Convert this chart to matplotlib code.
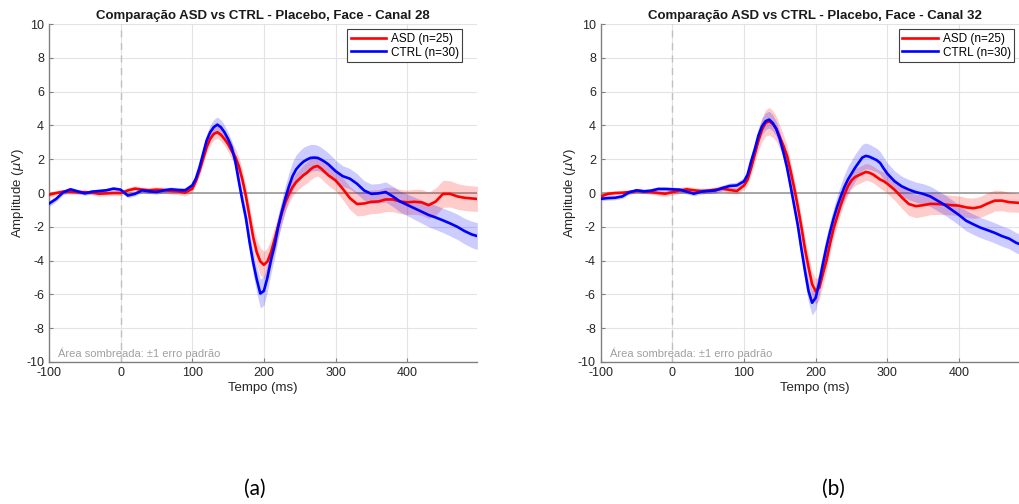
import matplotlib
matplotlib.use('Agg')
import matplotlib.pyplot as plt
import numpy as np

plt.rcParams['font.family'] = ['Liberation Sans', 'DejaVu Sans']
plt.rcParams['axes.unicode_minus'] = False

# sample times (ms): 10 ms in baseline/late window, 5 ms around the components
time = ([-100, -90, -80, -70, -60, -50, -40, -30, -20, -10,
         0, 10, 20, 30, 40, 50, 60, 70, 80, 90]
        + list(range(100, 301, 5))
        + [310, 320, 330, 340, 350, 360, 370, 380, 390, 400,
           410, 420, 430, 440, 450, 460, 470, 480, 490, 498])

# canal 28
asd_28 = [-0.1, 0.0, 0.08, 0.08, 0.05, 0.05, 0.02, -0.04, -0.02, 0.0,
          0.0, 0.15, 0.26, 0.2, 0.16, 0.2, 0.18, 0.12, 0.1, 0.02,
          0.25, 0.7, 1.3, 2.0, 2.7, 3.2, 3.5, 3.6, 3.45, 3.2,
          2.9, 2.5, 2.15, 1.6, 0.8, -0.2, -1.4, -2.6, -3.5, -4.05,
          -4.25, -4.05, -3.5, -2.75, -1.95, -1.2, -0.55, -0.05, 0.35, 0.65,
          0.85, 1.05, 1.2, 1.4, 1.55, 1.6, 1.45, 1.25, 1.05, 0.9, 0.75,
          0.26, -0.3, -0.65, -0.62, -0.52, -0.5, -0.38, -0.38, -0.5, -0.55,
          -0.52, -0.55, -0.72, -0.5, -0.05, -0.05, -0.2, -0.28, -0.32, -0.35]
asd_28_se = [0.15, 0.15, 0.15, 0.14, 0.14, 0.13, 0.13, 0.14, 0.14, 0.15,
             0.16, 0.17, 0.17, 0.16, 0.16, 0.16, 0.17, 0.18, 0.19, 0.2,
             0.22, 0.26, 0.3, 0.32, 0.34, 0.35, 0.36, 0.36, 0.37, 0.4,
             0.45, 0.5, 0.52, 0.52, 0.55, 0.6, 0.65, 0.7, 0.75, 0.8,
             0.8, 0.8, 0.78, 0.72, 0.65, 0.6, 0.55, 0.55, 0.55, 0.55,
             0.58, 0.6, 0.62, 0.62, 0.62, 0.6, 0.6, 0.6, 0.6, 0.62, 0.62,
             0.65, 0.68, 0.7, 0.7, 0.7, 0.7, 0.72, 0.72, 0.72, 0.72,
             0.74, 0.76, 0.78, 0.8, 0.8, 0.78, 0.76, 0.75, 0.75, 0.75]
ctrl_28 = [-0.63, -0.35, 0.05, 0.22, 0.1, -0.02, 0.08, 0.12, 0.16, 0.26,
           0.2, -0.15, -0.05, 0.16, 0.1, 0.06, 0.15, 0.22, 0.18, 0.16,
           0.45, 0.85, 1.5, 2.3, 3.1, 3.6, 3.9, 4.05, 3.9, 3.6,
           3.2, 2.7, 1.9, 0.7, -0.45, -1.5, -2.9, -4.1, -5.1, -5.95,
           -5.8, -5.0, -3.95, -3.1, -2.0, -1.1, -0.3, 0.4, 1.0, 1.4,
           1.65, 1.85, 1.98, 2.08, 2.1, 2.08, 1.98, 1.85, 1.7, 1.5, 1.3,
           1.0, 0.85, 0.55, 0.15, -0.05, -0.02, 0.06, -0.2, -0.5, -0.7,
           -0.9, -1.1, -1.3, -1.45, -1.62, -1.8, -2.0, -2.25, -2.45, -2.55]
ctrl_28_se = [0.18, 0.16, 0.14, 0.12, 0.12, 0.12, 0.12, 0.12, 0.12, 0.12,
              0.12, 0.13, 0.13, 0.13, 0.13, 0.13, 0.14, 0.14, 0.15, 0.15,
              0.18, 0.22, 0.28, 0.32, 0.38, 0.42, 0.45, 0.45, 0.44, 0.42,
              0.4, 0.4, 0.42, 0.45, 0.5, 0.55, 0.62, 0.7, 0.78, 0.85,
              0.85, 0.82, 0.78, 0.72, 0.7, 0.72, 0.75, 0.8, 0.85, 0.85,
              0.85, 0.85, 0.82, 0.8, 0.78, 0.75, 0.72, 0.7, 0.68, 0.66, 0.64,
              0.62, 0.6, 0.6, 0.58, 0.58, 0.58, 0.6, 0.6, 0.62, 0.64,
              0.66, 0.68, 0.7, 0.72, 0.72, 0.74, 0.75, 0.76, 0.78, 0.8]

# canal 32
asd_32 = [-0.2, -0.05, 0.0, 0.02, 0.06, 0.12, 0.1, 0.06, 0.0, -0.04,
          0.05, 0.15, 0.22, 0.16, 0.12, 0.14, 0.2, 0.26, 0.18, 0.12,
          0.45, 0.8, 1.5, 2.3, 3.1, 3.75, 4.15, 4.25, 4.1, 3.8,
          3.3, 2.8, 2.2, 1.3, 0.3, -0.8, -2.0, -3.3, -4.4, -5.4,
          -5.82, -5.6, -4.8, -4.0, -3.0, -2.1, -1.4, -0.7, -0.1, 0.4,
          0.75, 0.95, 1.05, 1.15, 1.25, 1.2, 1.1, 0.95, 0.8, 0.7, 0.55,
          0.2, -0.25, -0.65, -0.78, -0.72, -0.64, -0.65, -0.68, -0.72, -0.75,
          -0.85, -0.9, -0.82, -0.62, -0.45, -0.45, -0.54, -0.57, -0.6, -0.62]
asd_32_se = [0.15, 0.14, 0.13, 0.12, 0.12, 0.12, 0.13, 0.14, 0.15, 0.16,
             0.17, 0.18, 0.18, 0.17, 0.16, 0.16, 0.17, 0.18, 0.18, 0.18,
             0.25, 0.32, 0.4, 0.5, 0.6, 0.7, 0.78, 0.82, 0.8, 0.75,
             0.7, 0.65, 0.6, 0.55, 0.55, 0.58, 0.62, 0.68, 0.72, 0.75,
             0.75, 0.72, 0.68, 0.62, 0.58, 0.55, 0.52, 0.5, 0.5, 0.5,
             0.5, 0.5, 0.5, 0.5, 0.5, 0.5, 0.5, 0.5, 0.52, 0.55, 0.58,
             0.62, 0.65, 0.68, 0.68, 0.66, 0.64, 0.62, 0.6, 0.58, 0.58,
             0.58, 0.6, 0.62, 0.64, 0.62, 0.6, 0.58, 0.56, 0.55, 0.55]
ctrl_32 = [-0.34, -0.3, -0.28, -0.2, 0.05, 0.16, 0.1, 0.14, 0.24, 0.24,
           0.22, 0.2, 0.08, -0.04, 0.08, 0.12, 0.15, 0.3, 0.42, 0.45,
           0.7, 1.1, 1.9, 2.6, 3.4, 3.95, 4.25, 4.35, 4.15, 3.8,
           3.2, 2.4, 1.5, 0.4, -0.75, -1.9, -3.3, -4.6, -5.8, -6.5,
           -6.2, -5.3, -4.2, -3.2, -2.3, -1.5, -0.8, -0.2, 0.35, 0.8,
           1.15, 1.5, 1.8, 2.1, 2.2, 2.15, 2.05, 1.95, 1.78, 1.45, 1.15,
           0.7, 0.4, 0.2, 0.05, -0.05, -0.2, -0.45, -0.7, -1.0, -1.3,
           -1.64, -1.85, -2.05, -2.2, -2.36, -2.55, -2.7, -2.95, -3.1, -3.2]
ctrl_32_se = [0.12, 0.12, 0.12, 0.12, 0.12, 0.12, 0.12, 0.12, 0.13, 0.13,
              0.13, 0.13, 0.13, 0.13, 0.14, 0.14, 0.15, 0.16, 0.18, 0.2,
              0.22, 0.28, 0.34, 0.4, 0.45, 0.48, 0.5, 0.5, 0.48, 0.45,
              0.42, 0.4, 0.42, 0.45, 0.5, 0.55, 0.6, 0.66, 0.7, 0.72,
              0.72, 0.7, 0.66, 0.62, 0.6, 0.62, 0.66, 0.7, 0.74, 0.78,
              0.8, 0.8, 0.8, 0.78, 0.76, 0.74, 0.72, 0.7, 0.68, 0.66, 0.64,
              0.62, 0.6, 0.6, 0.6, 0.6, 0.6, 0.6, 0.6, 0.6, 0.6,
              0.6, 0.6, 0.6, 0.6, 0.6, 0.6, 0.6, 0.6, 0.6, 0.6]

channels = [28, 32]
captions = ['(a)', '(b)']
n_asd, n_ctrl = 25, 30


def erp_panel(ax, canal, asd, asd_se, ctrl, ctrl_se):
    t = np.array(time)
    asd, asd_se = np.array(asd), np.array(asd_se)
    ctrl, ctrl_se = np.array(ctrl), np.array(ctrl_se)

    ax.grid(True, color='#e3e3e3', linewidth=0.8)
    ax.set_axisbelow(True)
    ax.axhline(0, color='#a0a0a0', linewidth=1.3, zorder=1)
    ax.axvline(0, color='#c0c0c0', linewidth=1.0, linestyle=(0, (5, 4)), zorder=1)

    ax.fill_between(t, asd - asd_se, asd + asd_se, color='#ff0000', alpha=0.2,
                    linewidth=0, zorder=2)
    ax.fill_between(t, ctrl - ctrl_se, ctrl + ctrl_se, color='#0000ff', alpha=0.2,
                    linewidth=0, zorder=2)
    ax.plot(t, asd, color='#ff0000', linewidth=1.9, label=f'ASD (n={n_asd})', zorder=3)
    ax.plot(t, ctrl, color='#0000ff', linewidth=1.9, label=f'CTRL (n={n_ctrl})', zorder=3)

    ax.set_xlim(-100, 498)
    ax.set_ylim(-10, 10)
    ax.set_xticks(np.arange(-100, 401, 100))
    ax.set_yticks(np.arange(-10, 11, 2))
    ax.tick_params(direction='in', length=3, width=0.8, colors='#808080',
                   labelcolor='#262626', labelsize=9)
    for side in ['top', 'right']:
        ax.spines[side].set_visible(False)
    for side in ['left', 'bottom']:
        ax.spines[side].set_color('#808080')
        ax.spines[side].set_linewidth(1.0)

    ax.set_title(f'Comparação ASD vs CTRL - Placebo, Face - Canal {canal}',
                 fontsize=9.5, fontweight='bold', color='#1a1a1a', pad=4)
    ax.set_xlabel('Tempo (ms)', fontsize=9.5, color='#262626', labelpad=2)
    ax.set_ylabel(r'Amplitude ($\mu$V)', fontsize=9.5, color='#262626', labelpad=0)

    ax.text(-87, -9.85, 'Área sombreada: ±1 erro padrão', fontsize=8,
            color='#a0a0a0', va='bottom', ha='left')

    leg = ax.legend(loc='upper right', bbox_to_anchor=(0.965, 0.985),
                    fontsize=8.5, fancybox=False, edgecolor='#404040',
                    framealpha=1, handlelength=3.0, borderaxespad=0,
                    borderpad=0.3, labelspacing=0.15, handletextpad=0.4)
    leg.get_frame().set_linewidth(0.8)


fig = plt.figure(figsize=(10.2, 5.04), dpi=100)
ax_a = fig.add_axes([0.048, 0.282, 0.42, 0.670])
ax_b = fig.add_axes([0.589, 0.282, 0.42, 0.670])

erp_panel(ax_a, channels[0], asd_28, asd_28_se, ctrl_28, ctrl_28_se)
erp_panel(ax_b, channels[1], asd_32, asd_32_se, ctrl_32, ctrl_32_se)

fig.text(0.25, 0.03, captions[0], fontsize=15, family=['Lato', 'DejaVu Sans'],
         ha='center', va='center')
fig.text(0.817, 0.03, captions[1], fontsize=15, family=['Lato', 'DejaVu Sans'],
         ha='center', va='center')

fig.savefig('out.png', dpi=100)
